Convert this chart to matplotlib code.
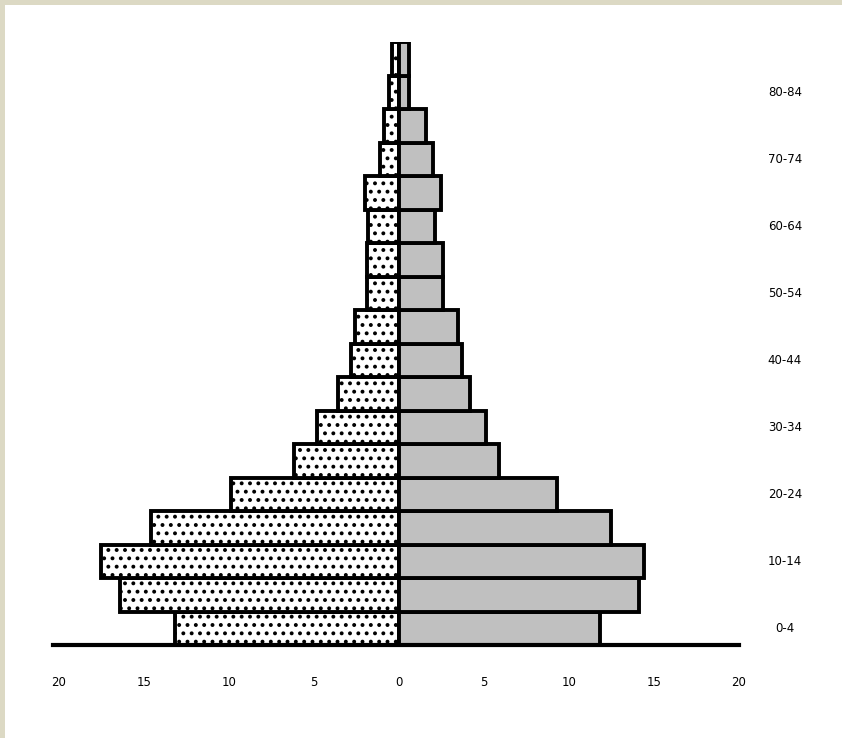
import matplotlib
matplotlib.use("Agg")
import matplotlib.pyplot as plt
import matplotlib.transforms as mtransforms
from matplotlib.patches import Rectangle
import numpy as np

age_groups = ["0-4", "5-9", "10-14", "15-19", "20-24", "25-29", "30-34", "35-39",
              "40-44", "45-49", "50-54", "55-59", "60-64", "65-69", "70-74",
              "75-79", "80-84", "85+"]
left_values = [13.2, 16.4, 17.5, 14.6, 9.9, 6.2, 4.8, 3.6, 2.8, 2.6, 1.9, 1.9,
               1.8, 2.0, 1.1, 0.9, 0.6, 0.4]
right_values = [11.8, 14.1, 14.4, 12.5, 9.3, 5.9, 5.1, 4.2, 3.7, 3.5, 2.6, 2.6,
                2.1, 2.5, 2.0, 1.6, 0.6, 0.6]
tick_values = [-20, -15, -10, -5, 0, 5, 10, 15, 20]
tick_labels = ["20", "15", "10", "5", "0", "5", "10", "15", "20"]

plt.rcParams['hatch.linewidth'] = 1.6
plt.rcParams['hatch.color'] = 'black'

W, H = 842, 738
fig = plt.figure(figsize=(W / 100, H / 100), dpi=100)
fig.patch.set_facecolor('#dcd9c4')
fig.patches.append(Rectangle((5 / W, 0), 1, 1 - 5 / H, transform=fig.transFigure,
                             facecolor='white', edgecolor='none', zorder=-10))

x0, x1 = 53, 739
y_top, y_bot = 42, 645
ax = fig.add_axes([x0 / W, (H - y_bot) / H, (x1 - x0) / W, (y_bot - y_top) / H])
ax.set_zorder(1)
ax.set_facecolor('none')

y = np.arange(len(age_groups))
ax.barh(y, [-v for v in left_values], height=1.0, color='white', edgecolor='black',
        linewidth=2.8, hatch='..', zorder=2)
ax.barh(y, right_values, height=1.0, color='#c0c0c0', edgecolor='black',
        linewidth=2.8, zorder=2)

ax.set_xlim(-20.35, 20.0)
ax.set_ylim(-0.5, len(age_groups) - 0.5)

for s in ['top', 'right', 'left']:
    ax.spines[s].set_visible(False)
ax.spines['bottom'].set_linewidth(3.0)
ax.spines['bottom'].set_zorder(3)

ax.set_xticks(tick_values)
ax.set_xticklabels(tick_labels, fontsize=8.5)
ax.tick_params(axis='x', length=0, pad=22)
ax.set_yticks([])

lab_tr = mtransforms.blended_transform_factory(fig.transFigure, ax.transData)
for i, lab in enumerate(age_groups):
    if i % 2 == 0:
        ax.text(785 / W, i, lab, transform=lab_tr, ha='center', va='center',
                fontsize=8.5, clip_on=False)

fig.savefig("out.png", dpi=100, facecolor=fig.get_facecolor())
